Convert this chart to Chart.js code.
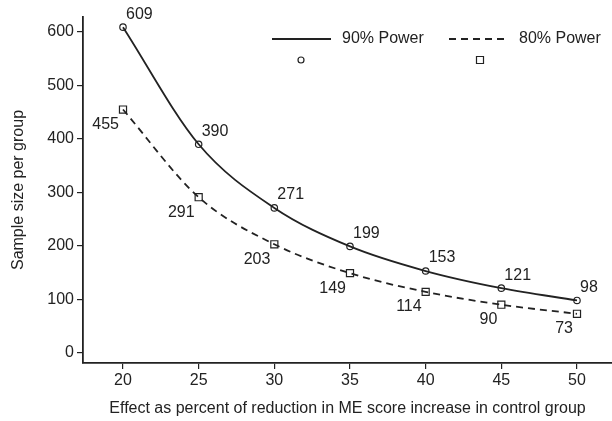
<!DOCTYPE html>
<html>
<head>
<meta charset="utf-8">
<script src="https://cdn.jsdelivr.net/npm/chart.js@4"></script>
<style>
  html, body { margin: 0; padding: 0; background: #fff; overflow: hidden; }
  #wrap { width: 612px; height: 421px; position: relative; }
</style>
</head>
<body>
<div id="wrap"><canvas id="c"></canvas></div>
<script>
const effectPct = [20, 25, 30, 35, 40, 45, 50];
const power90 = [609, 390, 271, 199, 153, 121, 98];
const power80 = [455, 291, 203, 149, 114, 90, 73];
const xTicks = [20, 25, 30, 35, 40, 45, 50];
const yTicks = [0, 100, 200, 300, 400, 500, 600];
const seriesNames = ['90% Power', '80% Power'];
const xTitle = 'Effect as percent of reduction in ME score increase in control group';
const yTitle = 'Sample size per group';

const FONT = '"Liberation Sans", Arial, Helvetica, sans-serif';
const INK = '#222';
const FS = 16;

const labelPlugin = {
  id: 'pointLabels',
  afterDatasetsDraw(chart) {
    const ctx = chart.ctx;
    ctx.save();
    ctx.font = FS + 'px ' + FONT;
    ctx.fillStyle = INK;
    ctx.textBaseline = 'middle';
    chart.data.datasets.forEach((ds, i) => {
      const meta = chart.getDatasetMeta(i);
      meta.data.forEach((pt, j) => {
        const v = ds.data[j].y;
        if (i === 0) {
          ctx.textAlign = 'left';
          ctx.fillText(String(v), pt.x + 3, pt.y - 13);
        } else {
          ctx.textAlign = 'right';
          ctx.fillText(String(v), pt.x - 4, pt.y + 15);
        }
      });
    });
    ctx.restore();
  }
};

const legendPlugin = {
  id: 'stataLegend',
  afterDraw(chart) {
    const ctx = chart.ctx;
    const ca = chart.chartArea;
    ctx.save();
    ctx.strokeStyle = INK;
    ctx.fillStyle = INK;
    ctx.lineWidth = 1.8;
    const y = ca.top + 22;
    const items = [
      { x0: 272, x1: 331, dash: [], text: seriesNames[0], tx: 342, mx: 301, style: 'circle' },
      { x0: 449, x1: 507, dash: [7, 5], text: seriesNames[1], tx: 519, mx: 480, style: 'rect' }
    ];
    ctx.font = FS + 'px ' + FONT;
    ctx.textBaseline = 'middle';
    ctx.textAlign = 'left';
    items.forEach(it => {
      ctx.setLineDash(it.dash);
      ctx.beginPath();
      ctx.moveTo(it.x0, y);
      ctx.lineTo(it.x1, y);
      ctx.stroke();
      ctx.setLineDash([]);
      ctx.fillText(it.text, it.tx, y);
      ctx.lineWidth = 1.2;
      ctx.beginPath();
      if (it.style === 'circle') {
        ctx.arc(it.mx, y + 21, 3, 0, Math.PI * 2);
      } else {
        ctx.rect(it.mx - 3.5, y + 17.5, 7, 7);
      }
      ctx.stroke();
      ctx.lineWidth = 1.8;
    });
    ctx.restore();
  }
};

new Chart(document.getElementById('c'), {
  type: 'line',
  data: {
    datasets: [
      {
        label: seriesNames[0],
        data: effectPct.map((x, i) => ({ x, y: power90[i] })),
        borderColor: INK,
        borderWidth: 1.8,
        pointStyle: 'circle',
        pointRadius: 3.2,
        pointBorderWidth: 1.2,
        pointBackgroundColor: 'rgba(0,0,0,0)',
        pointBorderColor: INK,
        cubicInterpolationMode: 'monotone',
        fill: false
      },
      {
        label: seriesNames[1],
        data: effectPct.map((x, i) => ({ x, y: power80[i] })),
        borderColor: INK,
        borderWidth: 1.8,
        borderDash: [7, 5],
        pointStyle: 'rect',
        pointRadius: 5,
        pointBorderWidth: 1.2,
        pointBackgroundColor: 'rgba(0,0,0,0)',
        pointBorderColor: INK,
        cubicInterpolationMode: 'monotone',
        fill: false
      }
    ]
  },
  options: {
    responsive: true,
    maintainAspectRatio: false,
    animation: false,
    layout: { autoPadding: false, padding: { left: 9, right: 0, top: 17, bottom: 3 } },
    plugins: { legend: { display: false }, tooltip: { enabled: false } },
    scales: {
      x: {
        type: 'linear',
        min: 17.357,
        max: 52.313,
        afterBuildTicks(s) { s.ticks = xTicks.map(v => ({ value: v })); },
        afterFit(s) { s.height = 421 - 363 - 3; s.paddingLeft = 0; s.paddingRight = 0; },
        grid: { drawOnChartArea: false, drawTicks: true, tickLength: 6, color: INK, lineWidth: 1.2 },
        border: { display: true, color: INK, width: 1.8 },
        ticks: { color: INK, font: { family: FONT, size: FS }, padding: 2, maxRotation: 0, autoSkip: false },
        title: { display: true, text: xTitle, color: INK, font: { family: FONT, size: FS }, padding: { top: 4, bottom: 0 } }
      },
      y: {
        type: 'linear',
        min: -19,
        max: 628,
        afterBuildTicks(s) { s.ticks = yTicks.map(v => ({ value: v })); },
        afterFit(s) { s.width = 83 - 9; s.paddingTop = 0; s.paddingBottom = 0; },
        grid: { drawOnChartArea: false, drawTicks: true, tickLength: 6, color: INK, lineWidth: 1.2 },
        border: { display: true, color: INK, width: 1.8 },
        ticks: { color: INK, font: { family: FONT, size: FS }, padding: 3, autoSkip: false },
        title: { display: true, text: yTitle, color: INK, font: { family: FONT, size: FS }, padding: { top: 0, bottom: 4 } }
      }
    }
  },
  plugins: [labelPlugin, legendPlugin]
});
</script>
</body>
</html>
